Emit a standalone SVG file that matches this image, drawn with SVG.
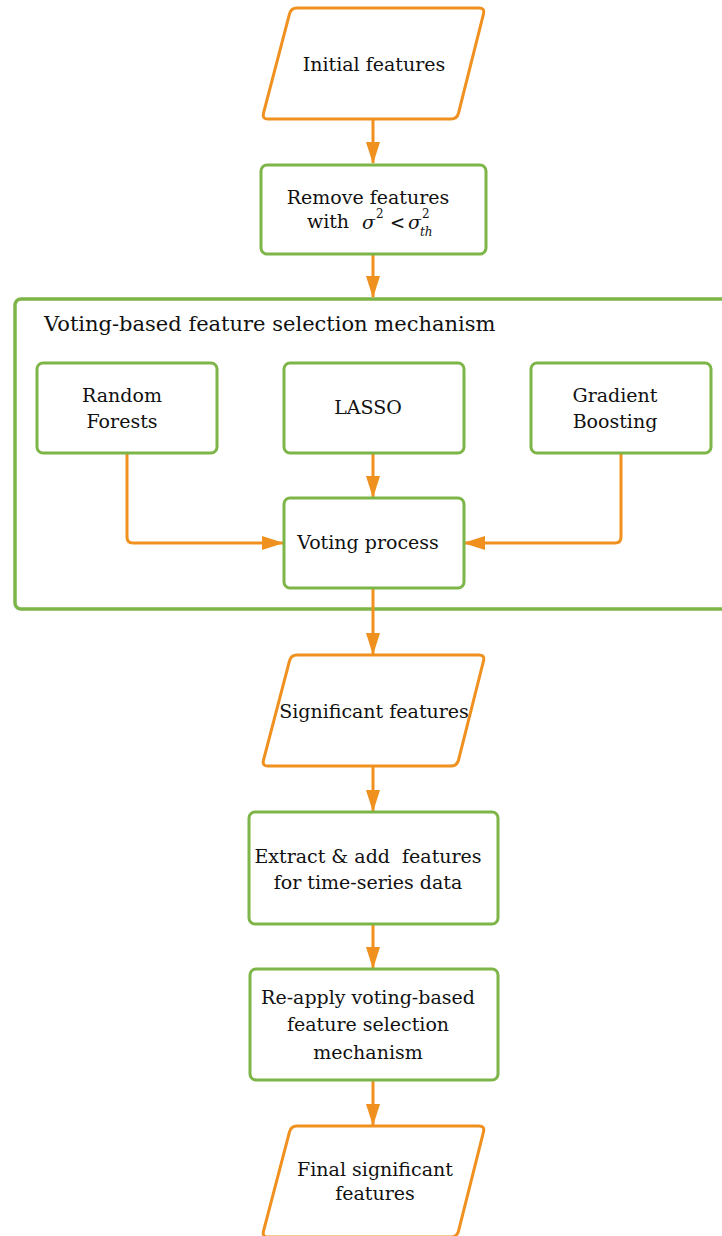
<svg xmlns="http://www.w3.org/2000/svg" width="722" height="1236" viewBox="0 0 722 1236">
  <style>
    .io { fill: #ffffff; stroke: #F0901E; stroke-width: 3; }
    .proc { fill: #ffffff; stroke: #7DB548; stroke-width: 3; }
    .group { fill: none; stroke: #7DB548; stroke-width: 3.5; }
    .edge { fill: none; stroke: #F0901E; stroke-width: 3; stroke-linejoin: round; }
    .lbl { font-family: "DejaVu Serif", "Liberation Serif", serif; font-size: 19px; fill: #111111; text-anchor: middle; white-space: pre; }
    .title { font-family: "DejaVu Serif", "Liberation Serif", serif; font-size: 21px; fill: #111111; }
    .math { font-family: "DejaVu Serif", "Liberation Serif", serif; fill: #111111; }
    .it { font-style: italic; }
  </style>
  <defs>
    <!-- rounded parallelogram used for data (input/output) nodes -->
    <path id="para" d="M 297,8 L 479,8 Q 485,8 483.5,13.8 L 458.5,113.2 Q 457,119 451,119 L 268,119 Q 262,119 263.5,113.2 L 289.5,13.8 Q 291,8 297,8 Z"/>
    <marker id="arrow" viewBox="0 0 22 14" refX="21" refY="7" markerWidth="22" markerHeight="14" markerUnits="userSpaceOnUse" orient="auto">
      <path d="M 0,0 L 22,7 L 0,14 Z" fill="#F0901E"/>
    </marker>
  </defs>

  <!-- group container -->
  <g id="voting-mechanism">
    <rect class="group" x="15" y="299" width="730" height="310" rx="6"/>
    <text class="title" x="44" y="331">Voting-based feature selection mechanism</text>
  </g>

  <g id="connectors">
    <line class="edge" x1="373" y1="120" x2="373" y2="163" marker-end="url(#arrow)"/>
    <line class="edge" x1="373" y1="254" x2="373" y2="297" marker-end="url(#arrow)"/>
    <path class="edge" d="M 127,454 L 127,537 Q 127,543 133,543 L 283,543" marker-end="url(#arrow)"/>
    <line class="edge" x1="373" y1="454" x2="373" y2="497" marker-end="url(#arrow)"/>
    <path class="edge" d="M 621,454 L 621,537 Q 621,543 615,543 L 464,543" marker-end="url(#arrow)"/>
    <line class="edge" x1="373" y1="589" x2="373" y2="654" marker-end="url(#arrow)"/>
    <line class="edge" x1="373" y1="767" x2="373" y2="811" marker-end="url(#arrow)"/>
    <line class="edge" x1="373" y1="925" x2="373" y2="968" marker-end="url(#arrow)"/>
    <line class="edge" x1="373" y1="1081" x2="373" y2="1125" marker-end="url(#arrow)"/>
  </g>

  <g id="initial-features">
    <use href="#para" class="io"/>
    <text class="lbl" x="374" y="71">Initial features</text>
  </g>

  <g id="remove-features">
    <rect class="proc" x="261" y="165" width="225" height="89" rx="6"/>
    <text class="lbl" x="368" y="204">Remove features</text>
    <text class="lbl" x="328" y="228">with</text>
    <!-- variance threshold: sigma^2 < sigma_th^2 -->
    <text class="math it" font-size="19" x="362" y="229">σ</text>
    <text class="math" font-size="12" x="376" y="218">2</text>
    <text class="math" font-size="18" x="390" y="229">&lt;</text>
    <text class="math it" font-size="19" x="408" y="229">σ</text>
    <text class="math" font-size="12" x="422" y="218">2</text>
    <text class="math it" font-size="12" x="420" y="236">th</text>
  </g>

  <g id="random-forests">
    <rect class="proc" x="37" y="363" width="180" height="90" rx="6"/>
    <text class="lbl" x="122" y="402">Random</text>
    <text class="lbl" x="122" y="428">Forests</text>
  </g>

  <g id="lasso">
    <rect class="proc" x="284" y="363" width="180" height="90" rx="6"/>
    <text class="lbl" x="368" y="414">LASSO</text>
  </g>

  <g id="gradient-boosting">
    <rect class="proc" x="531" y="363" width="180" height="90" rx="6"/>
    <text class="lbl" x="615" y="402">Gradient</text>
    <text class="lbl" x="615" y="428">Boosting</text>
  </g>

  <g id="voting-process">
    <rect class="proc" x="284" y="498" width="180" height="90" rx="6"/>
    <text class="lbl" x="368" y="549">Voting process</text>
  </g>

  <g id="significant-features">
    <use href="#para" class="io" transform="translate(0,647)"/>
    <text class="lbl" x="374" y="718">Significant features</text>
  </g>

  <g id="extract-features">
    <rect class="proc" x="249" y="812" width="249" height="112" rx="6"/>
    <text class="lbl" x="368" y="863">Extract &amp; add  features</text>
    <text class="lbl" x="368" y="889">for time-series data</text>
  </g>

  <g id="reapply-voting">
    <rect class="proc" x="250" y="969" width="248" height="111" rx="6"/>
    <text class="lbl" x="368" y="1004">Re-apply voting-based</text>
    <text class="lbl" x="368" y="1031">feature selection</text>
    <text class="lbl" x="368" y="1059">mechanism</text>
  </g>

  <g id="final-features">
    <use href="#para" class="io" transform="translate(0,1118)"/>
    <text class="lbl" x="375" y="1176">Final significant</text>
    <text class="lbl" x="375" y="1200">features</text>
  </g>
</svg>
